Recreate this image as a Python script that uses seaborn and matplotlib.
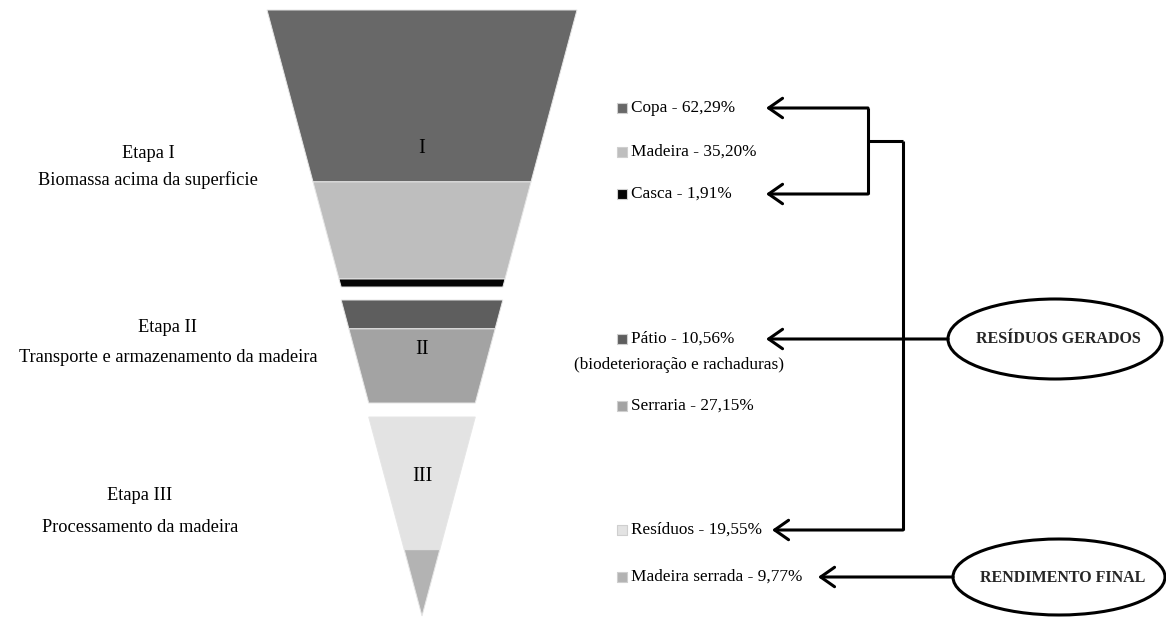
import matplotlib
matplotlib.use("Agg")
import matplotlib.pyplot as plt
import seaborn as sns
import pandas as pd
import numpy as np
from matplotlib.patches import Ellipse, FancyArrowPatch

# ---------------- data ----------------
stage_titles = ["Etapa I", "Etapa II", "Etapa III"]
stage_descs = ["Biomassa acima da superficie",
               "Transporte e armazenamento da madeira",
               "Processamento da madeira"]
stage_roman = ["I", "II", "III"]
components = ["Copa", "Madeira", "Casca", "Pátio", "Serraria", "Resíduos", "Madeira serrada"]
component_stage = [0, 0, 0, 1, 1, 2, 2]
percent = [62.29, 35.20, 1.91, 10.56, 27.15, 19.55, 9.77]
percent_labels = ["62,29%", "35,20%", "1,91%", "10,56%", "27,15%", "19,55%", "9,77%"]
colors = ["#686868", "#bebebe", "#050505", "#5e5e5e", "#a3a3a3", "#e3e3e3", "#b3b3b3"]
note_patio = "(biodeterioração e rachaduras)"
box_residuos = "RESÍDUOS GERADOS"
box_rendimento = "RENDIMENTO FINAL"

# ---------------- layout ----------------
W_PX, H_PX = 1166, 617
cx, top_y, half_top = 422, 10, 155
stage_heights = [277, 103, 199]
stage_gaps = [13, 14]
min_band = 8
roman_frac = [0.5, 0.48, 0.3]
stage_text_x = [148, 168, 140]
stage_title_y = [153, 327, 496]
stage_desc_y = [180, 357, 527]
label_y = [108, 152, 194, 339, 406, 530, 577]
note_y = 365
sq_x, text_x = 622, 631
FS = 13.2
FS_R = 12.4

sns.set_theme(style="white")
plt.rcParams['font.family'] = ['Liberation Serif', 'DejaVu Serif']

fig = plt.figure(figsize=(W_PX / 100, H_PX / 100), dpi=100)
ax = fig.add_axes([0, 0, 1, 1])

df = pd.DataFrame({"comp": components, "stage": component_stage,
                   "pct": percent, "lab": percent_labels, "color": colors})

# band heights inside each stage, proportional to percentages
heights = np.zeros(len(df))
for s, H in enumerate(stage_heights):
    idx = np.where(df["stage"].values == s)[0]
    p = df["pct"].values[idx]
    h = H * p / p.sum()
    small = h < min_band
    if small.any():
        h[small] = min_band
        rest = ~small
        h[rest] = (H - min_band * small.sum()) * p[rest] / p[rest].sum()
    heights[idx] = h

U = sum(stage_heights)
def half(u):
    return half_top * (1 - u / U)

# legend squares (seaborn)
sq = pd.DataFrame({"x": [sq_x] * len(df), "y": label_y, "comp": components})
sns.scatterplot(data=sq, x="x", y="y", hue="comp", palette=dict(zip(components, colors)),
                marker="s", s=46, edgecolor="#cfcfcf", linewidth=0.8, legend=False, ax=ax,
                zorder=4)
ax.set_xlim(0, W_PX)
ax.set_ylim(H_PX, 0)
ax.axis("off")

u = 0.0
stage_bounds = []
for s in range(3):
    idx = np.where(df["stage"].values == s)[0]
    off = top_y + sum(stage_gaps[:s])
    y_start = off + u
    for i in idx:
        u0, u1 = u, u + heights[i]
        y0, y1 = off + u0, off + u1
        xs = [cx - half(u0), cx + half(u0), cx + half(u1), cx - half(u1)]
        ys = [y0, y0, y1, y1]
        ax.fill(xs, ys, color=df["color"][i], edgecolor="#e6e6e6", lw=0.7, zorder=2)
        u = u1
    stage_bounds.append((y_start, off + u))

# roman numerals
for s in range(3):
    y0, y1 = stage_bounds[s]
    ax.text(cx, y0 + (y1 - y0) * roman_frac[s], stage_roman[s], ha="center", va="center",
            fontsize=FS + 1.5, color="black", zorder=3)

# stage texts
for s in range(3):
    ax.text(stage_text_x[s], stage_title_y[s], stage_titles[s], ha="center", va="center",
            fontsize=FS, color="black")
    ax.text(stage_text_x[s], stage_desc_y[s], stage_descs[s], ha="center", va="center",
            fontsize=FS, color="black")

for i in range(len(df)):
    ax.text(text_x, label_y[i], f"{df['comp'][i]} - {df['lab'][i]}", ha="left", va="center",
            fontsize=FS_R, color="black")
ax.text(679, note_y, note_patio, ha="center", va="center", fontsize=FS_R, color="black")

# connectors
LW = 2.2
def arrow(p0, p1):
    a = FancyArrowPatch(p0, p1, arrowstyle="->,head_length=0.5,head_width=0.35",
                        mutation_scale=20, lw=LW, color="black", shrinkA=0, shrinkB=0,
                        zorder=5)
    ax.add_patch(a)

def line(xs, ys):
    ax.plot(xs, ys, color="black", lw=LW, solid_capstyle="butt", zorder=5)

vx1, vx2, tip = 868, 903, 766
line([vx1, vx1], [label_y[0], label_y[2]])
arrow((vx1, label_y[0]), (tip, label_y[0]))
arrow((vx1, label_y[2]), (tip, label_y[2]))
line([vx1, vx2], [141, 141])
line([vx2, vx2], [141, label_y[5]])
arrow((vx2, label_y[5]), (tip + 6, label_y[5]))

e1 = Ellipse((1055, 339), 214, 80, fill=False, lw=LW, edgecolor="black", zorder=5)
ax.add_patch(e1)
ax.text(1058, 339, box_residuos, ha="center", va="center", fontsize=11.5, fontweight="bold")
arrow((1055 - 107, label_y[3]), (tip, label_y[3]))

e2 = Ellipse((1059, 577), 212, 76, fill=False, lw=LW, edgecolor="black", zorder=5)
ax.add_patch(e2)
ax.text(1063, 578, box_rendimento, ha="center", va="center", fontsize=11.5, fontweight="bold")
arrow((1059 - 106, label_y[6]), (818, label_y[6]))

fig.savefig("out.png", dpi=100, facecolor="white")
